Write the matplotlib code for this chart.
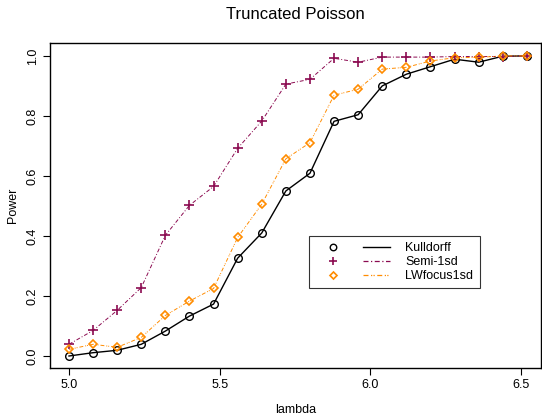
import matplotlib
matplotlib.use("Agg")
import matplotlib.pyplot as plt
from matplotlib.lines import Line2D
from matplotlib.legend_handler import HandlerBase

lam = [5.00, 5.08, 5.16, 5.24, 5.32, 5.40, 5.48, 5.56, 5.64, 5.72,
       5.80, 5.88, 5.96, 6.04, 6.12, 6.20, 6.28, 6.36, 6.44, 6.52]

kulldorff = [0.000, 0.011, 0.019, 0.039, 0.083, 0.133, 0.173, 0.326, 0.410, 0.550,
             0.609, 0.782, 0.804, 0.900, 0.939, 0.964, 0.989, 0.979, 0.999, 1.000]
semi_1sd = [0.039, 0.085, 0.152, 0.228, 0.402, 0.502, 0.565, 0.692, 0.783, 0.906,
            0.922, 0.992, 0.979, 0.996, 0.996, 0.996, 0.998, 0.998, 0.998, 1.000]
lwfocus_1sd = [0.022, 0.039, 0.029, 0.062, 0.135, 0.183, 0.225, 0.395, 0.506, 0.657,
               0.711, 0.869, 0.889, 0.956, 0.962, 0.983, 0.994, 0.995, 1.000, 1.000]

labels = ["Kulldorff", "Semi-1sd", "LWfocus1sd"]
c_semi = "#8B0A50"
c_lw = "#FF8C00"
ls_semi = (0, (4, 2, 1, 2))
ls_lw = (0, (4, 2, 1, 1, 1, 2))

plt.rcParams["font.family"] = ["Liberation Sans", "DejaVu Sans"]


# R style legend key: point symbol on the left, line sample on the right
class MarkThenLine(HandlerBase):
    def __init__(self, ls, lw):
        super().__init__()
        self.ls = ls
        self.lw = lw

    def create_artists(self, legend, orig, xd, yd, w, h, fontsize, trans):
        y = h / 2 - yd
        mk = Line2D([-xd + 0.23 * w], [y], ls="none", marker=orig.get_marker(),
                    ms=orig.get_markersize() * 0.85, mfc=orig.get_markerfacecolor(),
                    mec=orig.get_markeredgecolor(), mew=orig.get_markeredgewidth())
        ln = Line2D([-xd + 0.61 * w, -xd + 0.97 * w], [y, y], color=orig.get_color(),
                    lw=self.lw, ls=self.ls)
        for a in (mk, ln):
            a.set_transform(trans)
        return [mk, ln]


fig = plt.figure(figsize=(5.42, 4.17), dpi=100)
ax = fig.add_axes([50 / 542, 1 - 368 / 417, 491 / 542, 325 / 417])

l1, = ax.plot(lam, kulldorff, color="black", lw=1.0, ls="-",
              marker="o", ms=5.5, mfc="none", mec="black", mew=1.0)
l2, = ax.plot(lam, semi_1sd, color=c_semi, lw=0.7, ls=ls_semi,
              marker="+", ms=7, mec=c_semi, mew=1.2)
l3, = ax.plot(lam, lwfocus_1sd, color=c_lw, lw=0.7, ls=ls_lw,
              marker="D", ms=4.2, mfc="none", mec=c_lw, mew=1.2)

ax.set_xlim(4.937, 6.567)
ax.set_ylim(-0.04, 1.043)
ax.set_xticks([5.0, 5.5, 6.0, 6.5])
ax.set_yticks([0.0, 0.2, 0.4, 0.6, 0.8, 1.0])
ax.set_xticklabels(["5.0", "5.5", "6.0", "6.5"])
ax.set_yticklabels(["0.0", "0.2", "0.4", "0.6", "0.8", "1.0"], rotation=90, va="center")
ax.tick_params(direction="out", length=5, width=0.8, labelsize=9, pad=3)
for s in ax.spines.values():
    s.set_linewidth(1.0)

ax.set_title("Truncated Poisson", fontsize=12, pad=17)
ax.set_xlabel("lambda", fontsize=9, labelpad=9)
ax.set_ylabel("Power", fontsize=9, labelpad=6)

leg = ax.legend([l1, l2, l3], labels,
                handler_map={l1: MarkThenLine("-", 1.0),
                             l2: MarkThenLine(ls_semi, 0.9),
                             l3: MarkThenLine(ls_lw, 0.9)},
                loc="upper left", bbox_to_anchor=((309 - 50) / 491, (368 - 236) / 325),
                borderaxespad=0, fontsize=9, frameon=True, fancybox=False,
                edgecolor="black", handlelength=6.2, handletextpad=1.0,
                borderpad=0.5, labelspacing=0.15)
leg.get_frame().set_linewidth(0.8)

fig.savefig("out.png", dpi=100)
